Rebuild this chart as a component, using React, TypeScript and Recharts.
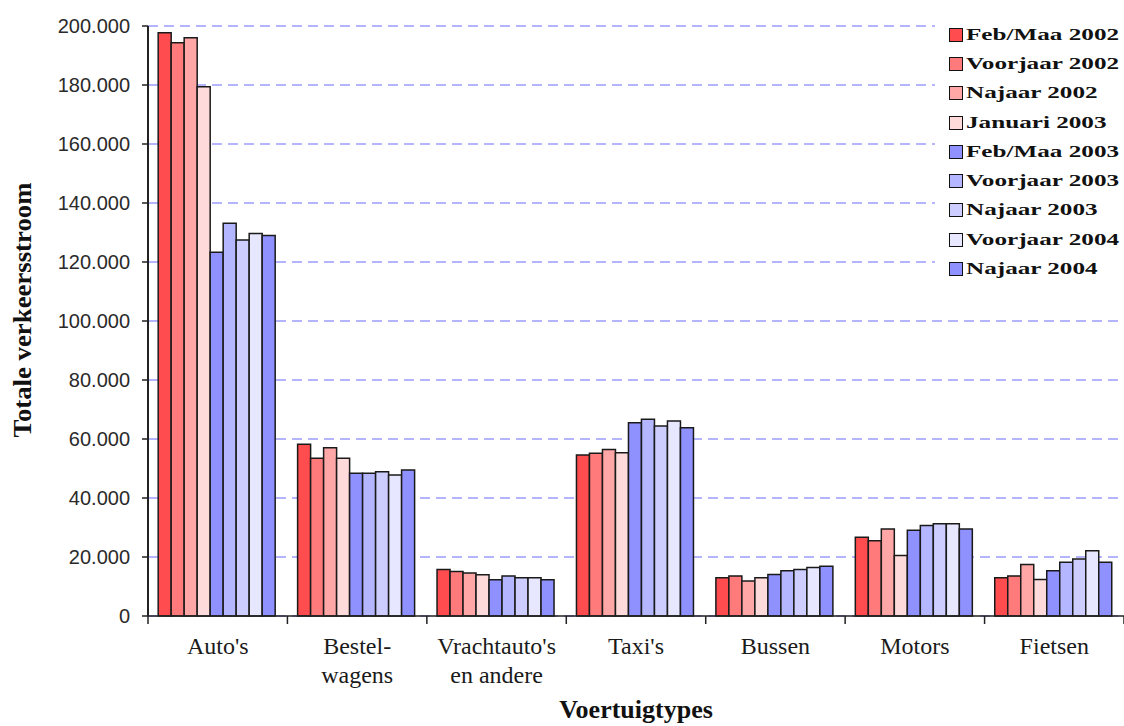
import React from 'react';
import { BarChart, Bar, XAxis, YAxis, CartesianGrid, Legend, Label } from 'recharts';

// vehicle types on the x axis ("\n" splits a label over two lines)
const categories = ["Auto's", 'Bestel-\nwagens', "Vrachtauto's\nen andere", "Taxi's", 'Bussen', 'Motors', 'Fietsen'];

// counting periods, one series each
const seriesNames = [
  'Feb/Maa 2002',
  'Voorjaar 2002',
  'Najaar 2002',
  'Januari 2003',
  'Feb/Maa 2003',
  'Voorjaar 2003',
  'Najaar 2003',
  'Voorjaar 2004',
  'Najaar 2004',
];

// total traffic flow per vehicle type, in the order of `categories`
const febMaa2002 = [197700, 58200, 15800, 54600, 13000, 26700, 13000];
const voorjaar2002 = [194300, 53500, 15100, 55200, 13600, 25500, 13600];
const najaar2002 = [196000, 57000, 14600, 56400, 11900, 29500, 17500];
const januari2003 = [179400, 53500, 14000, 55300, 13000, 20500, 12400];
const febMaa2003 = [123300, 48400, 12300, 65500, 14100, 29100, 15300];
const voorjaar2003 = [133100, 48400, 13600, 66700, 15300, 30700, 18200];
const najaar2003 = [127500, 48900, 13000, 64400, 15800, 31300, 19300];
const voorjaar2004 = [129700, 47800, 13000, 66100, 16400, 31300, 22100];
const najaar2004 = [129000, 49500, 12300, 63800, 16900, 29500, 18200];

const yTicks = [0, 20000, 40000, 60000, 80000, 100000, 120000, 140000, 160000, 180000, 200000];

const seriesValues = [
  febMaa2002, voorjaar2002, najaar2002, januari2003,
  febMaa2003, voorjaar2003, najaar2003, voorjaar2004, najaar2004,
];

const seriesColors = [
  '#ff4d4f', '#ff7b7b', '#ffa6a6', '#ffdada',
  '#8f91ff', '#b4b6ff', '#cdceff', '#e7e7ff', '#8f91ff',
];

const data = categories.map((name, c) => {
  const row: Record<string, string | number> = { name };
  seriesNames.forEach((s, i) => {
    row[s] = seriesValues[i][c];
  });
  return row;
});

const WIDTH = 1124;
const HEIGHT = 726;
const Y_AXIS_WIDTH = 148;
const BAND = (WIDTH - Y_AXIS_WIDTH) / categories.length;

const serif = '"Liberation Serif", "Times New Roman", serif';
const sans = '"Liberation Sans", Arial, sans-serif';

const formatThousands = (v: number) => String(v).replace(/\B(?=(\d{3})+(?!\d))/g, '.');

// category label plus tick marks on the band edges
const CategoryTick = (props: any) => {
  const { x, y, payload, index } = props;
  const half = BAND / 2;
  const lines = String(payload.value).split('\n');
  return (
    <g>
      <line x1={x - half} x2={x - half} y1={y - 8} y2={y} stroke="#222" strokeWidth={1.5} />
      {index === categories.length - 1 && (
        <line x1={x + half} x2={x + half} y1={y - 8} y2={y} stroke="#222" strokeWidth={1.5} />
      )}
      <text x={x} y={y + 30} textAnchor="middle" fontFamily={serif} fontSize={24} fill="#1a1a1a">
        {lines.map((l, i) => (
          <tspan key={i} x={x} dy={i === 0 ? 0 : 29}>
            {l}
          </tspan>
        ))}
      </text>
    </g>
  );
};

const LegendBox = () => (
  <div style={{ background: '#fff', width: 189, height: 272 }}>
    {seriesNames.map((name, i) => (
      <div key={name} style={{ display: 'flex', alignItems: 'center', height: 29.3 }}>
        <span
          style={{
            display: 'inline-block',
            width: 12,
            height: 12,
            background: seriesColors[i],
            border: '1.5px solid #111',
            marginLeft: 14,
            marginRight: 3,
          }}
        />
        <span
          style={{
            display: 'inline-block',
            fontFamily: serif,
            fontWeight: 700,
            fontSize: 17,
            color: '#111',
            whiteSpace: 'nowrap',
            transform: 'scaleX(1.48)',
            transformOrigin: 'left center',
          }}
        >
          {name}
        </span>
      </div>
    ))}
  </div>
);

export default function App() {
  return (
    <div style={{ position: 'fixed', left: 0, top: 0, width: WIDTH, height: HEIGHT, background: '#fff' }}>
      <BarChart
        width={WIDTH}
        height={HEIGHT}
        data={data}
        margin={{ top: 26, right: 0, left: 0, bottom: 0 }}
        barCategoryGap="7.3%"
        barGap={0}
      >
        <CartesianGrid vertical={false} stroke="#9c9cff" strokeWidth={1.6} strokeDasharray="10 6" />
        <XAxis
          dataKey="name"
          height={HEIGHT - 616}
          interval={0}
          tickLine={false}
          tickSize={8}
          tickMargin={0}
          axisLine={{ stroke: '#222', strokeWidth: 1.5 }}
          tick={<CategoryTick />}
        >
          <Label
            content={() => (
              <text
                x={Y_AXIS_WIDTH + (WIDTH - Y_AXIS_WIDTH) / 2}
                y={718}
                textAnchor="middle"
                fontFamily={serif}
                fontWeight={700}
                fontSize={26}
                fill="#111"
              >
                Voertuigtypes
              </text>
            )}
          />
        </XAxis>
        <YAxis
          width={Y_AXIS_WIDTH}
          domain={[0, 200000]}
          ticks={yTicks}
          interval={0}
          tickSize={6}
          tickMargin={12}
          tickFormatter={formatThousands}
          axisLine={{ stroke: '#222', strokeWidth: 2 }}
          tickLine={{ stroke: '#222', strokeWidth: 1.5 }}
          tick={{ fill: '#2a2a2a', fontSize: 20, fontFamily: sans }}
        >
          <Label
            content={() => (
              <text
                x={31}
                y={310}
                transform="rotate(-90 31 310)"
                textAnchor="middle"
                fontFamily={serif}
                fontWeight={700}
                fontSize={26}
                fill="#111"
                textLength={255}
                lengthAdjust="spacingAndGlyphs"
              >
                Totale verkeersstroom
              </text>
            )}
          />
        </YAxis>
        <Legend
          layout="horizontal"
          verticalAlign="middle"
          align="center"
          wrapperStyle={{ left: 935, top: 20, width: 189 }}
          content={() => <LegendBox />}
        />
        {seriesNames.map((s, i) => (
          <Bar
            key={s}
            dataKey={s}
            fill={seriesColors[i]}
            stroke="#1a1a1a"
            strokeWidth={1.5}
            isAnimationActive={false}
          />
        ))}
      </BarChart>
    </div>
  );
}
